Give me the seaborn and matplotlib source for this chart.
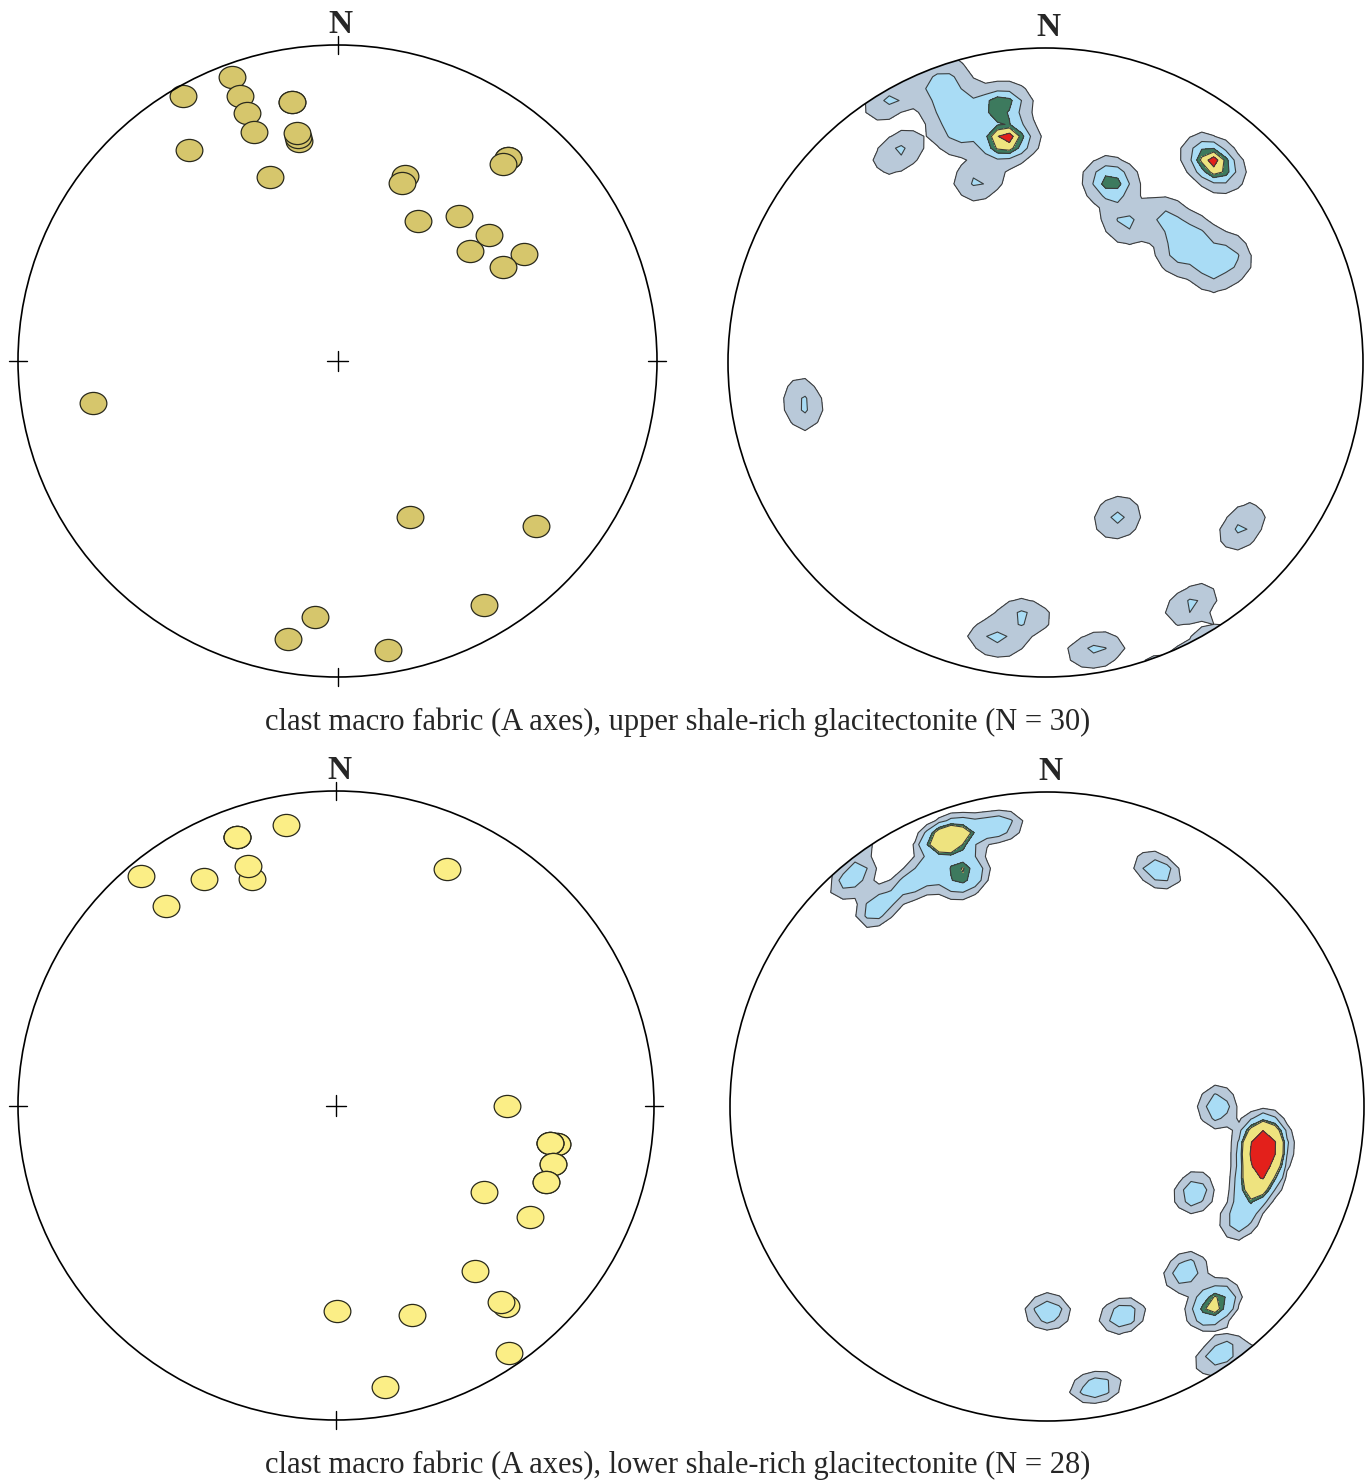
import numpy as np
import matplotlib
matplotlib.use("Agg")
import matplotlib.pyplot as plt
from matplotlib.patches import Circle
from matplotlib.path import Path
from matplotlib.transforms import Affine2D
import seaborn as sns
import pandas as pd

# ---------------- data (equal-area net coordinates, unit radius; east, north) ----------------
upper_east = [-0.330, -0.484, -0.305, -0.142, -0.142, -0.283, -0.261, -0.121, -0.124, -0.127,
              -0.465, -0.211, 0.534, 0.534, 0.518, 0.211, 0.202, 0.252, 0.380, 0.474,
              0.415, 0.584, 0.518, -0.765, 0.227, 0.621, 0.459, -0.070, -0.155, 0.158]
upper_north = [0.899, 0.839, 0.839, 0.820, 0.820, 0.785, 0.725, 0.696, 0.709, 0.722,
               0.668, 0.582, 0.642, 0.642, 0.623, 0.585, 0.563, 0.443, 0.459, 0.399,
               0.348, 0.339, 0.297, -0.133, -0.494, -0.522, -0.772, -0.810, -0.880, -0.915]

lower_east = [-0.613, -0.535, -0.415, -0.311, -0.311, -0.311, -0.157, -0.264, -0.277, 0.349,
              0.538, 0.695, 0.695, 0.673, 0.673, 0.673, 0.682, 0.682, 0.660, 0.660, 0.465,
              0.610, 0.437, 0.535, 0.519, 0.003, 0.239, 0.544, 0.154]
lower_north = [0.730, 0.634, 0.720, 0.854, 0.854, 0.854, 0.892, 0.720, 0.762, 0.752,
               -0.002, -0.122, -0.122, -0.119, -0.119, -0.119, -0.186, -0.186, -0.243, -0.243, -0.275,
               -0.355, -0.526, -0.638, -0.625, -0.653, -0.666, -0.787, -0.895]

upper_levels = [0.25, 0.82, 1.45, 1.85, 2.40]
lower_levels = [0.30, 0.62, 1.25, 1.50, 3.2]
contour_colors = ["#b9c9d9", "#a9dcf5", "#3d7a5e", "#eee37f", "#e3201b"]
upper_marker_color = "#d6c66c"
lower_marker_color = "#fbee86"
captions = ["clast macro fabric (A axes), upper shale-rich glacitectonite (N = 30)",
            "clast macro fabric (A axes), lower shale-rich glacitectonite (N = 28)"]

# ---------------- helpers ----------------
KAPPA = 300.0


def to_vec(x, y):
    x = np.asarray(x, float)
    y = np.asarray(y, float)
    r = np.clip(np.hypot(x, y), 0, 1)
    theta = 2 * np.arcsin(r / np.sqrt(2))
    phi = np.arctan2(y, x)
    return np.stack([np.sin(theta) * np.cos(phi),
                     np.sin(theta) * np.sin(phi),
                     -np.cos(theta)], axis=-1)


def density(xs, ys, n=57, ext=1.06):
    g = np.linspace(-ext, ext, n)
    gx, gy = np.meshgrid(g, g)
    gv = to_vec(gx, gy)
    dv = to_vec(xs, ys)
    dots = np.abs(gv @ dv.T)
    dens = np.exp(KAPPA * (dots - 1)).sum(axis=-1)
    return gx, gy, dens


ellipse_marker = Affine2D().scale(1.0, 0.83).transform_path(Path.unit_circle())

sns.set_theme(style="white")
plt.rcParams["font.family"] = ["Liberation Serif", "DejaVu Serif"]

W, H = 1371, 1482
fig = plt.figure(figsize=(W / 100, H / 100), dpi=100)


def add_ax(left, top, right, bottom):
    ax = fig.add_axes([left / W, 1 - bottom / H, (right - left) / W, (bottom - top) / H])
    ax.set_xlim(-1, 1)
    ax.set_ylim(-1, 1)
    ax.set_axis_off()
    ax.add_patch(Circle((0, 0), 1, fill=False, lw=1.2, ec="black", clip_on=False, zorder=5))
    ax.text(0.01, 1.065, "N", ha="center", va="center", fontsize=24, fontweight="bold")
    return ax


def decorate_ticks(ax):
    t = 0.028
    kw = dict(color="black", lw=1.0, clip_on=False, zorder=6)
    ax.plot([0, 0], [1 - t, 1 + t], **kw)
    ax.plot([0, 0], [-1 - t, -1 + t], **kw)
    ax.plot([-1 - t, -1 + t], [0, 0], **kw)
    ax.plot([1 - t, 1 + t], [0, 0], **kw)
    c = 0.032
    ax.plot([-c, c], [0, 0], **kw)
    ax.plot([0, 0], [-c, c], **kw)


def scatter_panel(ax, xs, ys, color):
    df = pd.DataFrame({"east": xs, "north": ys})
    sns.scatterplot(data=df, x="east", y="north", ax=ax, marker=ellipse_marker, s=370,
                    color=color, edgecolor="#2a2a1c", linewidth=0.9, zorder=4, legend=False)
    ax.set_xlim(-1, 1)
    ax.set_ylim(-1, 1)
    ax.set_axis_off()
    decorate_ticks(ax)


def contour_panel(ax, xs, ys, levels):
    gx, gy, d = density(xs, ys)
    lv = list(levels) + [1e6]
    clip = Circle((0, 0), 1, transform=ax.transData)
    cf = ax.contourf(gx, gy, d, levels=lv, colors=contour_colors, zorder=2)
    cl = ax.contour(gx, gy, d, levels=levels, colors="#3c3c3c", linewidths=0.8, zorder=3)
    cf.set_clip_path(clip)
    cl.set_clip_path(clip)


ax_tl = add_ax(18, 45, 657, 677)
scatter_panel(ax_tl, upper_east, upper_north, upper_marker_color)
ax_tr = add_ax(728, 48, 1363, 677)
contour_panel(ax_tr, upper_east, upper_north, upper_levels)

ax_bl = add_ax(18, 791, 654, 1420)
scatter_panel(ax_bl, lower_east, lower_north, lower_marker_color)
ax_br = add_ax(730, 792, 1364, 1421)
contour_panel(ax_br, lower_east, lower_north, lower_levels)

fig.text(678 / W, 1 - 722 / H, captions[0], ha="center", va="center", fontsize=22)
fig.text(678 / W, 1 - 1465 / H, captions[1], ha="center", va="center", fontsize=22)

fig.savefig("out.png", dpi=100, facecolor="white")
